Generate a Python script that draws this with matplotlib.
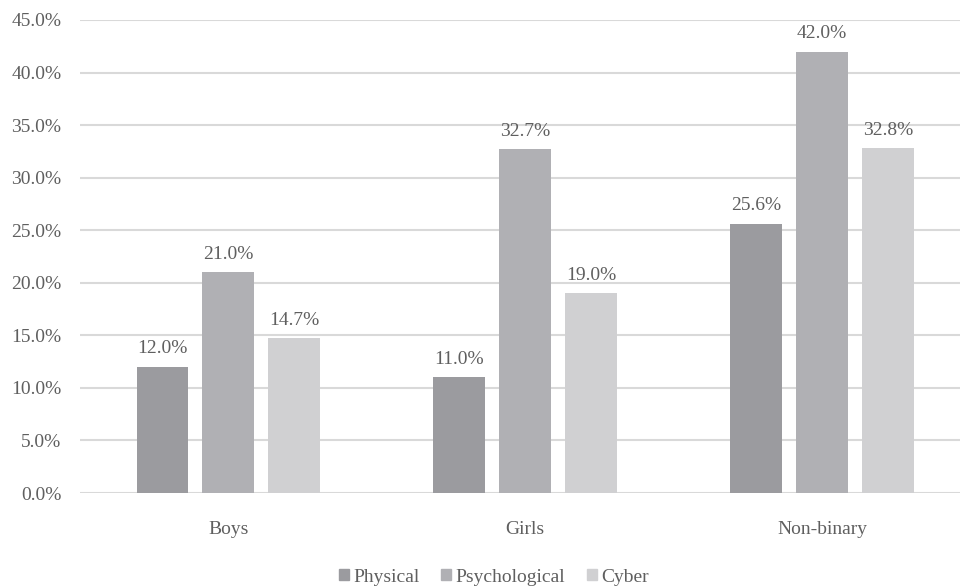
import numpy as np
import matplotlib
matplotlib.use("Agg")
from matplotlib import pyplot as plt
from matplotlib.patches import Patch

categories = ["Boys", "Girls", "Non-binary"]
series = ["Physical", "Psychological", "Cyber"]
physical = [12.0, 11.0, 25.6]
psychological = [21.0, 32.7, 42.0]
cyber = [14.7, 19.0, 32.8]
yticks = [0, 5, 10, 15, 20, 25, 30, 35, 40, 45]

colours = ["#9b9b9f", "#b0b0b4", "#d0d0d2"]
textcol = "#5f5f5f"
fs = 14

plt.rcParams['font.family'] = ['Liberation Serif', 'DejaVu Serif']

fig = plt.figure(figsize=(9.6, 5.86), dpi=100)
ax = fig.add_axes([80/960, 93/586, 880/960, 473/586])

x = np.arange(len(categories))
width = 0.175
step = 0.222
for i, (vals, col) in enumerate(zip([physical, psychological, cyber], colours)):
    bars = ax.bar(x + (i-1)*step, vals, width, color=col, zorder=3)
    for b, v in zip(bars, vals):
        ax.annotate("%.1f%%" % v, (b.get_x()+b.get_width()/2, v), xytext=(0, 7),
                    textcoords="offset points", ha="center", va="bottom",
                    fontsize=fs, color=textcol)

ax.set_xlim(-0.5, 2 + 138/297)
ax.set_ylim(0, 45)
ax.set_yticks(yticks)
ax.set_yticklabels(["%.1f%%" % t for t in yticks])
ax.set_xticks(x)
ax.set_xticklabels(categories)
ax.tick_params(axis="both", length=0, colors=textcol, labelsize=fs)
ax.tick_params(axis="y", pad=13.5)
ax.tick_params(axis="x", pad=20.5)
ax.grid(axis="y", color="#d9d9d9", linewidth=1.5, zorder=0)
for s in ax.spines.values():
    s.set_visible(False)

handles = [Patch(color=c, label=s) for c, s in zip(colours, series)]
fig.legend(handles=handles, loc="center", bbox_to_anchor=(494/960, 1-577/586), ncol=3,
           frameon=False, fontsize=fs, handlelength=0.5, handleheight=0.5,
           handletextpad=0.25, columnspacing=1.1, labelcolor=textcol)

fig.savefig("out.png", dpi=100)
